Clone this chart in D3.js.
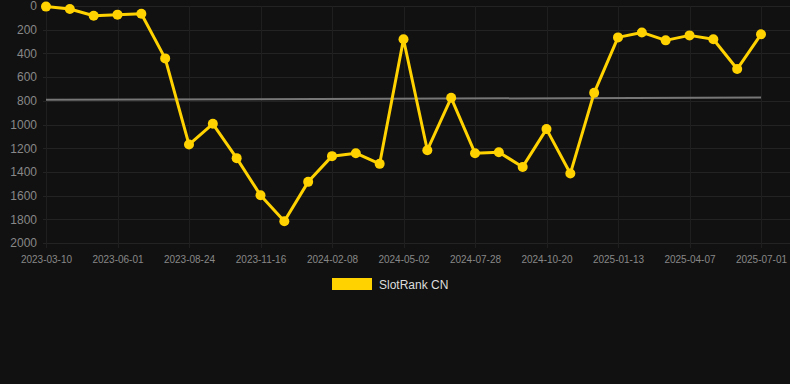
<!DOCTYPE html>
<html>
<head>
<meta charset="utf-8">
<script src="https://cdn.jsdelivr.net/npm/d3@7"></script>
<style>
  body { margin: 0; background: #111111; }
  svg { display: block; font-family: Arial, "Liberation Sans", sans-serif; }
</style>
</head>
<body>
<script>
// dates of each sample, only every third one is labelled on the axis
var dates = ["2023-03-10", "2023-04-07", "2023-05-04", "2023-06-01", "2023-06-29", "2023-07-27",
    "2023-08-24", "2023-09-21", "2023-10-19", "2023-11-16", "2023-12-14", "2024-01-11",
    "2024-02-08", "2024-03-07", "2024-04-04", "2024-05-02", "2024-05-31", "2024-06-29",
    "2024-07-28", "2024-08-24", "2024-09-22", "2024-10-20", "2024-11-17", "2024-12-16",
    "2025-01-13", "2025-02-09", "2025-03-10", "2025-04-07", "2025-05-05", "2025-06-03",
    "2025-07-01"];
var rank = [5, 25, 82, 73, 65, 442, 1169, 994, 1284, 1597, 1817, 1484, 1267, 1242, 1332, 281,
    1217, 775, 1242, 1234, 1358, 1039, 1414, 733, 265, 223, 290, 248, 281, 532, 239];
var yTicks = [0, 200, 400, 600, 800, 1000, 1200, 1400, 1600, 1800, 2000];
var seriesName = "SlotRank CN";

var width = 790, height = 384;
var plotLeft = 43, plotRight = 790, plotTop = 6, plotBottom = 243;

var svg = d3.select("body").append("svg")
    .attr("width", width)
    .attr("height", height);

var x = d3.scalePoint().domain(dates).range([46, 761]);
var y = d3.scaleLinear().domain([0, 2000]).range([plotTop, plotBottom]);

var labelDates = dates.filter(function (d, i) { return i % 3 === 0; });

// grid
svg.append("g")
    .selectAll("line")
    .data(yTicks)
    .enter().append("line")
    .attr("x1", plotLeft).attr("x2", plotRight)
    .attr("y1", function (d) { return Math.round(y(d)) + 0.5; })
    .attr("y2", function (d) { return Math.round(y(d)) + 0.5; })
    .attr("stroke", "#232323").attr("stroke-width", 1);
svg.append("g")
    .selectAll("line")
    .data(labelDates)
    .enter().append("line")
    .attr("x1", function (d) { return Math.round(x(d)) + 0.5; })
    .attr("x2", function (d) { return Math.round(x(d)) + 0.5; })
    .attr("y1", plotTop).attr("y2", plotBottom + 5)
    .attr("stroke", "#1f1f1f").attr("stroke-width", 1);

// y axis labels
var yAxis = svg.append("g")
    .attr("transform", "translate(37,0)")
    .call(d3.axisLeft(y).tickValues(yTicks).tickFormat(d3.format("d")).tickSize(0).tickPadding(0));
yAxis.select(".domain").remove();
yAxis.selectAll("text")
    .attr("fill", "#888888")
    .style("font-size", "12px");

// x axis labels
var xAxis = svg.append("g")
    .attr("transform", "translate(0," + (plotBottom + 13) + ")")
    .call(d3.axisBottom(x).tickValues(labelDates).tickSize(0).tickPadding(0));
xAxis.select(".domain").remove();
xAxis.selectAll("text")
    .attr("fill", "#888888")
    .style("font-size", "10px");

// linear trend line
var n = rank.length, mx = (n - 1) / 2, my = d3.mean(rank), sxy = 0, sxx = 0;
rank.forEach(function (v, i) {
    sxy += (i - mx) * (v - my);
    sxx += (i - mx) * (i - mx);
});
var slope = sxy / sxx;
svg.append("line")
    .attr("x1", x(dates[0])).attr("x2", x(dates[n - 1]))
    .attr("y1", y(my - slope * mx))
    .attr("y2", y(my + slope * mx))
    .attr("stroke", "#777777")
    .attr("stroke-width", 2);

// series
var line = d3.line()
    .x(function (d, i) { return x(dates[i]); })
    .y(function (d) { return y(d); });
svg.append("path")
    .datum(rank)
    .attr("d", line)
    .attr("fill", "none")
    .attr("stroke", "#ffd200")
    .attr("stroke-width", 3)
    .attr("stroke-linejoin", "round");
svg.append("g")
    .selectAll("circle")
    .data(rank)
    .enter().append("circle")
    .attr("cx", function (d, i) { return x(dates[i]); })
    .attr("cy", function (d) { return y(d); })
    .attr("r", 5)
    .attr("fill", "#ffd200");

// legend
svg.append("rect")
    .attr("x", 332).attr("y", 278)
    .attr("width", 40).attr("height", 12)
    .attr("fill", "#ffd200");
svg.append("text")
    .attr("x", 379).attr("y", 289)
    .attr("fill", "#dddddd")
    .style("font-size", "12px")
    .text(seriesName);
</script>
</body>
</html>
